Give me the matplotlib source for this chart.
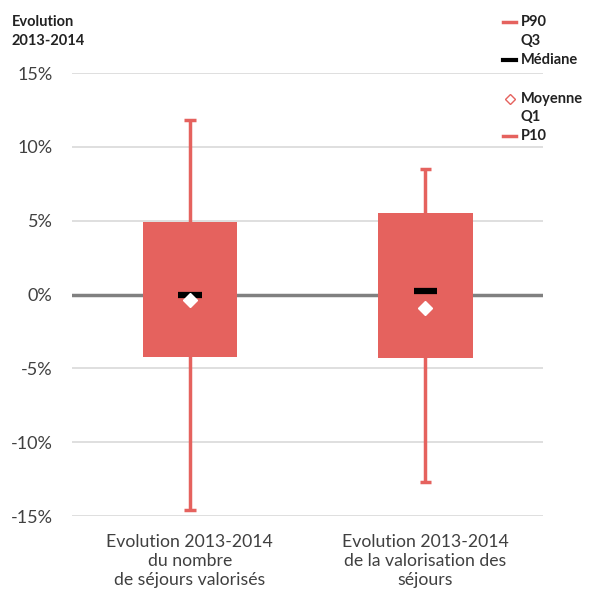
import matplotlib
matplotlib.use("Agg")
import matplotlib.pyplot as plt
from matplotlib.patches import Rectangle

plt.rcParams['font.family'] = ['Lato', 'DejaVu Sans']

categories = ["Evolution 2013-2014\ndu nombre\nde séjours valorisés",
              "Evolution 2013-2014\nde la valorisation des\nséjours"]
p90 = [11.8, 8.5]
q3 = [4.9, 5.5]
median = [0.0, 0.25]
mean = [-0.35, -0.9]
q1 = [-4.2, -4.3]
p10 = [-14.6, -12.7]
yticks = [-15, -10, -5, 0, 5, 10, 15]
ytick_labels = ["-15%", "-10%", "-5%", "0%", "5%", "10%", "15%"]

RED = "#E5625E"

fig = plt.figure(figsize=(5.95, 5.90), dpi=100)
ax = fig.add_axes([0.121, 0.1254, 0.792, 0.7506])
ax.set_xlim(0, 2)
ax.set_ylim(-15, 15)

for y in yticks:
    if y == 0:
        continue
    ax.axhline(y, color="#D9D9D9", lw=1.2, zorder=0)
ax.axhline(0, color="#808080", lw=2.5, zorder=1)

bw = 0.4
cw = 0.05
mw = 0.1
for i in range(len(categories)):
    x = 0.5 + i
    ax.plot([x, x], [p10[i], p90[i]], color=RED, lw=2.5, zorder=2, solid_capstyle='butt')
    ax.plot([x - cw / 2, x + cw / 2], [p90[i], p90[i]], color=RED, lw=2.5, zorder=2, solid_capstyle='butt')
    ax.plot([x - cw / 2, x + cw / 2], [p10[i], p10[i]], color=RED, lw=2.5, zorder=2, solid_capstyle='butt')
    ax.add_patch(Rectangle((x - bw / 2, q1[i]), bw, q3[i] - q1[i], facecolor=RED, edgecolor="none", zorder=3))
    ax.plot([x - mw / 2, x + mw / 2], [median[i], median[i]], color="black", lw=4.5, zorder=4, solid_capstyle='butt')
    ax.plot([x], [mean[i]], marker="D", markersize=7, color="white", markeredgecolor="white", zorder=5, linestyle="none")

ax.set_yticks(yticks)
ax.set_yticklabels(ytick_labels, fontsize=13, color="#404040")
ax.set_xticks([0.5, 1.5])
ax.set_xticklabels(categories, fontsize=12.7, color="#404040", linespacing=1.22)
ax.tick_params(axis='both', length=0)
ax.tick_params(axis='y', pad=14)
ax.tick_params(axis='x', pad=13)
for s in ax.spines.values():
    s.set_visible(False)

fig.text(0.02, 0.975, "Evolution\n2013-2014", fontsize=10.5, fontweight="bold",
         color="#222222", va="top", ha="left", linespacing=1.5)

# legend
lx_text = 0.875
entries = [
    (22, "P90", "dash_red"),
    (41, "Q3", None),
    (60, "Médiane", "dash_black"),
    (99, "Moyenne", "diamond"),
    (117, "Q1", None),
    (136, "P10", "dash_red"),
]
for ypix, label, kind in entries:
    yf = 1 - ypix / 590
    fig.text(lx_text, yf, label, fontsize=10.5, fontweight="bold", color="#222222", va="center", ha="left")
    if kind == "dash_red":
        fig.lines.append(plt.Line2D([0.845, 0.868], [yf, yf], color=RED, lw=2.5, transform=fig.transFigure))
    elif kind == "dash_black":
        fig.lines.append(plt.Line2D([0.845, 0.868], [yf, yf], color="black", lw=3, transform=fig.transFigure))
    elif kind == "diamond":
        fig.lines.append(plt.Line2D([0.857], [yf], marker="D", markersize=5, markerfacecolor="white",
                                    markeredgecolor=RED, markeredgewidth=1.0, linestyle="none",
                                    transform=fig.transFigure))

fig.savefig("out.png", dpi=100)
